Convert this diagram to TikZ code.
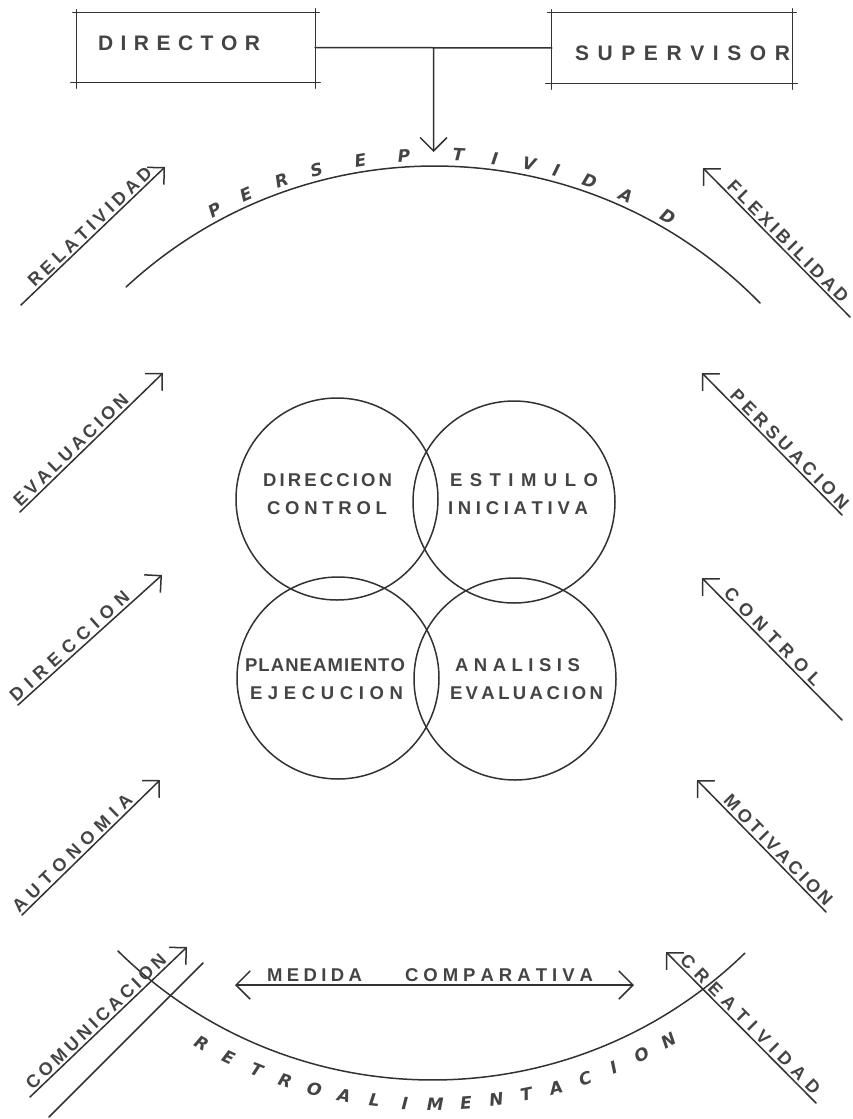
\documentclass[tikz,border=0pt]{standalone}
\usepackage{fontspec}
\usetikzlibrary{arrows.meta,calc}
\newfontfamily\lett{Liberation Sans}
\newfontfamily\hand{DejaVu Sans}
\definecolor{ink}{RGB}{50,50,50}
\definecolor{tink}{RGB}{68,68,68}
\newcommand\spreadto[2]{\makebox[#1][s]{\spreadletters#2\relax}}
\def\spreadletters#1#2{#1\ifx\relax#2\else\hfil\expandafter\spreadletters\expandafter#2\fi}
\newcommand\ovbox[1]{%
  \draw[bln] ([xshift=-4pt]#1.north west) -- ([xshift=4pt]#1.north east);
  \draw[bln] ([xshift=-6pt]#1.south west) -- ([xshift=5pt]#1.south east);
  \draw[bln] ([yshift=3pt]#1.north west) -- ([yshift=-6pt]#1.south west);
  \draw[bln] ([yshift=4pt]#1.north east) -- ([yshift=-6pt]#1.south east);}
\tikzset{
  ln/.style={draw=ink, line width=1.5pt, line cap=round},
  bln/.style={draw=ink, line width=1.3pt, line cap=round},
  sarr/.style={ln, -{Straight Barb[angle=90:17pt]}},
  sarl/.style={ln, {Straight Barb[angle=90:17pt]}-},
  varr/.style={ln, -{Straight Barb[angle=90:19pt]}},
  darr/.style={ln, {Straight Barb[angle=90:20pt]}-{Straight Barb[angle=90:20pt]}},
  lbl/.style={text=tink, font=\lett\bfseries\fontsize{18}{18}\selectfont, inner sep=0pt},
  ctxt/.style={text=tink, font=\lett\bfseries\fontsize{18.5}{18.5}\selectfont, inner sep=0pt},
  bxt/.style={text=tink, font=\lett\bfseries\fontsize{21}{21}\selectfont, inner sep=0pt},
  arcl/.style={text=tink, font=\hand\bfseries\itshape\fontsize{17}{17}\selectfont, inner sep=0pt},
  ring/.style={circle, ln, minimum size=202pt, inner sep=0pt},
  boxn/.style={inner sep=0pt}
}
\begin{document}
\begin{tikzpicture}[x=1pt,y=-1pt]
\fill[white] (0,0) rectangle (853,1119);
\useasboundingbox (0,0) rectangle (853,1119);

% top boxes
\node[boxn, minimum width=238pt, minimum height=69pt] (dir) at (196,47.5) {};
\node[boxn, minimum width=240pt, minimum height=70pt] (sup) at (672,48) {};
\ovbox{dir}
\ovbox{sup}
\node[bxt] (dirt) at (179,43) {\spreadto{162pt}{DIRECTOR}};
\node[bxt] (supt) at (682.5,53) {\spreadto{215pt}{SUPERVISOR}};
\draw[ln] (dir.east) -- (sup.west);
\coordinate (jn) at ($(dir.east)!0.5!(sup.west)$);
\coordinate (ptip) at (433.5,152);
\draw[varr] (jn) -- (ptip);

% top arc
\coordinate (tc) at (434.8,620.4);
\draw[ln] ($(tc)+(-132.8:454.4)$) arc[start angle=-132.8, end angle=-44.3, radius=454.4];
\foreach \a/\l [count=\i] in {118.2/P,113.9/E,109.2/R,104.7/S,99.2/E,93.8/P,87.1/T,82.6/I,78.3/V,74.9/I,70.6/D,65.8/A,60.0/D}
  \node[arcl, rotate=\a-90] (pt\i) at ($(tc)+({466*cos(\a)},{-466*sin(\a)})$) {\l};

% bottom arc
\coordinate (bc) at (432.5,632);
\draw[ln] ($(bc)+(134.6:448)$) arc[start angle=134.6, end angle=45.8, radius=448];
\foreach \l [count=\i from 0] in {R,E,T,R,O,A,L,I,M,E,N,T,A,C,I,O,N} {
  \pgfmathsetmacro\a{240.7+3.706*\i}
  \node[arcl, rotate=\a+90] (rt\i) at ($(bc)+({472*cos(\a)},{-472*sin(\a)})$) {\l};
}

% left arrows
\coordinate (b1) at (21,305);  \coordinate (t1) at (165,167);
\coordinate (b2) at (20,512);  \coordinate (t2) at (163,373);
\coordinate (b3) at (18,705);  \coordinate (t3) at (162,575);
\coordinate (b4) at (22,915);  \coordinate (t4) at (160,780);
\coordinate (b5) at (30,1097); \coordinate (t5) at (187,947);
\draw[sarr] (b1) -- (t1) node[lbl, pos=0.52, sloped, above=2pt] (relat) {\spreadto{164pt}{RELATIVIDAD}};
\draw[sarr] (b2) -- (t2) node[lbl, pos=0.40, sloped, above=2pt] (evalu) {\spreadto{152pt}{EVALUACION}};
\draw[sarr] (b3) -- (t3) node[lbl, pos=0.40, sloped, above=2pt] (direc) {\spreadto{154pt}{DIRECCION}};
\draw[sarr] (b4) -- (t4) node[lbl, pos=0.41, sloped, above=2pt] (auton) {\spreadto{160pt}{AUTONOMIA}};
\draw[sarr] (b5) -- (t5) node[lbl, pos=0.46, sloped, above=2pt] (comun) {\spreadto{186pt}{COMUNICACION}};
\coordinate (pl1) at (49,1117); \coordinate (pl2) at (203,963);
\draw[ln] (pl1) -- (pl2);

% right arrows
\coordinate (t6) at (703,168);  \coordinate (b6) at (850,317);
\coordinate (t7) at (702,373);  \coordinate (b7) at (842,515);
\coordinate (t8) at (702,578);  \coordinate (b8) at (842,720);
\coordinate (t9) at (697,780);  \coordinate (b9) at (826,912);
\coordinate (t10) at (666,952); \coordinate (b10) at (816,1103);
\draw[sarl] (t6) -- (b6) node[lbl, pos=0.535, sloped, above=2pt] (flexi) {\spreadto{164pt}{FLEXIBILIDAD}};
\draw[sarl] (t7) -- (b7) node[lbl, pos=0.58, sloped, above=2pt] (persu) {\spreadto{160pt}{PERSUACION}};
\draw[sarl] (t8) -- (b8) node[lbl, pos=0.46, sloped, above=2pt] (contr) {\spreadto{130pt}{CONTROL}};
\draw[sarl] (t9) -- (b9) node[lbl, pos=0.58, sloped, above=2pt] (motiv) {\spreadto{147pt}{MOTIVACION}};
\draw[sarl] (t10) -- (b10) node[lbl, pos=0.52, sloped, above=2pt] (creat) {\spreadto{190pt}{CREATIVIDAD}};

% circles
\node[ring] (c1) at (337,499) {};
\node[ring] (c2) at (514,502) {};
\node[ring] (c3) at (338,678) {};
\node[ring] (c4) at (515,679) {};
\node[ctxt] (tdir) at (327.5,480) {\spreadto{129pt}{DIRECCION}};
\node[ctxt] (tcon) at (327,508) {\spreadto{120pt}{CONTROL}};
\node[ctxt] (test) at (524,480) {\spreadto{148pt}{ESTIMULO}};
\node[ctxt] (tini) at (518,508) {\spreadto{140pt}{INICIATIVA}};
\node[ctxt] (tpla) at (325,665) {\spreadto{160pt}{PLANEAMIENTO}};
\node[ctxt] (teje) at (326.5,693) {\spreadto{153pt}{EJECUCION}};
\node[ctxt] (tana) at (517.5,665) {\spreadto{125pt}{ANALISIS}};
\node[ctxt] (teva) at (526.5,693) {\spreadto{153pt}{EVALUACION}};

% medida comparativa
\coordinate (ma) at (235,985); \coordinate (mb) at (634,985);
\draw[darr] (ma) -- (mb);
\node[ctxt] (med) at (314.5,975) {\spreadto{95pt}{MEDIDA}};
\node[ctxt] (comp) at (499,975) {\spreadto{188pt}{COMPARATIVA}};
\end{tikzpicture}
\end{document}
